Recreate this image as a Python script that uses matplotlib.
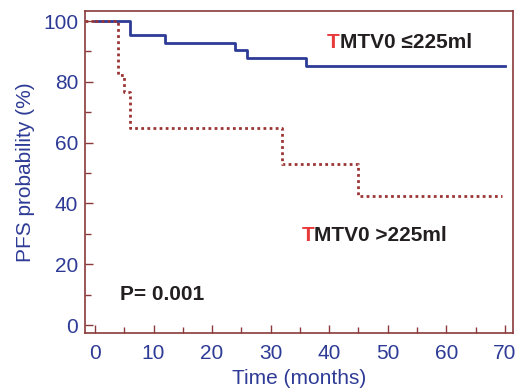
import matplotlib
matplotlib.use("Agg")
import matplotlib.pyplot as plt
from matplotlib.ticker import MultipleLocator

plt.rcParams['font.family'] = ['Liberation Sans', 'DejaVu Sans']

# Kaplan-Meier step data (time in months, PFS %)
low_t = [0, 6, 12, 24, 26, 36, 70]
low_s = [100, 95.3, 92.9, 90.5, 88.0, 85.2, 85.2]
high_t = [0, 4, 5, 6, 32, 45, 69.5]
high_s = [100, 82.4, 76.5, 64.7, 52.9, 42.4, 42.4]

xticks = [0, 10, 20, 30, 40, 50, 60, 70]
yticks = [0, 20, 40, 60, 80, 100]

blue = '#2E3B96'
red_line = '#9B3535'
spine_c = '#8A3A3A'
txt = '#231F20'
red_t = '#E83A3A'

fig = plt.figure(figsize=(5.15, 3.88), dpi=100)
ax = fig.add_axes([85/515, 1-333/388, (513-85)/515, (333-11)/388])

ax.step(low_t, low_s, where='post', color=blue, lw=2.0)
ax.step(high_t, high_s, where='post', color=red_line, lw=2.0, linestyle=(0, (1, 1.2)))
ax.plot([-1.7, 0], [100, 100], color=red_line, lw=2.0, linestyle=(0, (1, 1.2)))

ax.set_xlim(-1.7, 71.4)
ax.set_ylim(-2.6, 103.3)
ax.set_xticks(xticks)
ax.set_yticks(yticks)
ax.xaxis.set_minor_locator(MultipleLocator(5))
ax.yaxis.set_minor_locator(MultipleLocator(10))
ax.tick_params(which='both', direction='in', color=spine_c, labelcolor=blue,
               labelsize=15, top=False, right=False)
ax.tick_params(which='major', length=6, width=1)
ax.tick_params(which='minor', length=4, width=1)
ax.tick_params(axis='x', pad=8)
ax.tick_params(axis='y', pad=5)
for s in ax.spines.values():
    s.set_color(spine_c)
    s.set_linewidth(1.2)

ax.set_xlabel('Time (months)', color=blue, fontsize=15, labelpad=4)
ax.set_ylabel('PFS probability (%)', color=blue, fontsize=15, labelpad=6)

def label(x, y, rest):
    t = ax.text(x, y, 'T', color=red_t, fontsize=15, fontweight='bold', va='center', ha='left')
    fig.canvas.draw()
    bb = t.get_window_extent()
    x2 = ax.transData.inverted().transform((bb.x1, bb.y0))[0]
    ax.text(x2, y, rest, color=txt, fontsize=15, fontweight='bold', va='center', ha='left')

label(39.6, 93, 'MTV0 \u2264225ml')
label(35.3, 29.6, 'MTV0 >225ml')
ax.text(4.3, 10.2, 'P= 0.001', color=txt, fontsize=15, fontweight='bold', va='center', ha='left')

fig.savefig('out.png', dpi=100)
